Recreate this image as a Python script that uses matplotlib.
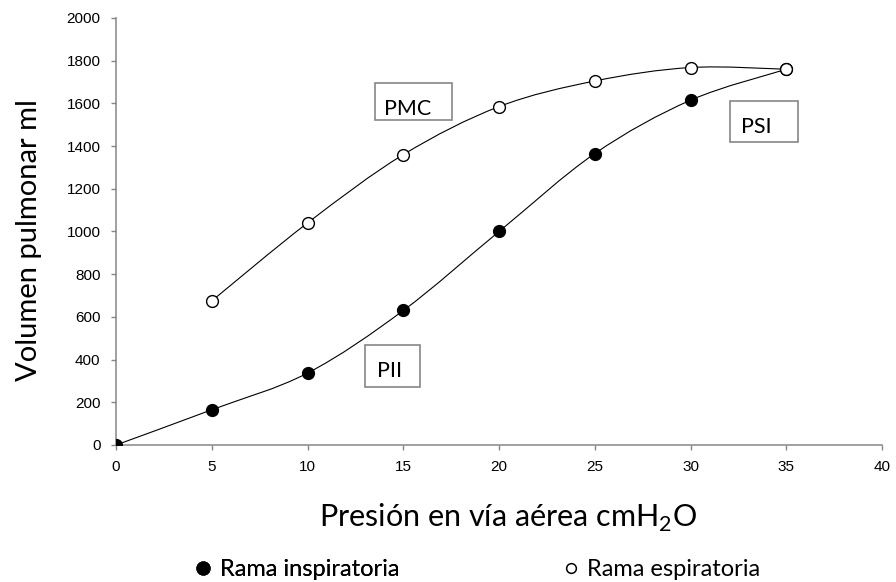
import numpy as np
import matplotlib.pyplot as plt
from matplotlib.path import Path
from matplotlib.patches import PathPatch, Rectangle
from matplotlib.lines import Line2D

plt.rcParams['mathtext.fontset'] = 'custom'
plt.rcParams['mathtext.rm'] = 'Lato'

# Presión (cmH2O) y volumen (ml) de cada rama
presion_insp = [0, 5, 10, 15, 20, 25, 30, 35]
volumen_insp = [0, 165, 337, 630, 1000, 1365, 1615, 1760]
presion_esp = [5, 10, 15, 20, 25, 30, 35]
volumen_esp = [675, 1040, 1360, 1585, 1705, 1768, 1760]

x_ticks = [0, 5, 10, 15, 20, 25, 30, 35, 40]
y_ticks = [0, 200, 400, 600, 800, 1000, 1200, 1400, 1600, 1800, 2000]

gris = '#868686'


def curva_suave(xs, ys):
    # Bezier cúbica tipo Catmull-Rom que pasa por todos los puntos
    p = np.column_stack([xs, ys]).astype(float)
    ext = np.vstack([p[0], p, p[-1]])
    verts = [p[0]]
    codes = [Path.MOVETO]
    for i in range(len(p) - 1):
        p0, p1, p2, p3 = ext[i], ext[i + 1], ext[i + 2], ext[i + 3]
        verts += [p1 + (p2 - p0) / 6, p2 - (p3 - p1) / 6, p2]
        codes += [Path.CURVE4] * 3
    return Path(verts, codes)


fig = plt.figure(figsize=(8.96, 5.82), dpi=100)
ax = fig.add_axes([0.1295, 0.2354, 0.855, 0.7337])

for xs, ys in [(presion_insp, volumen_insp), (presion_esp, volumen_esp)]:
    ax.add_patch(PathPatch(curva_suave(xs, ys), facecolor='none',
                           edgecolor='black', lw=0.8, zorder=2))

ax.plot(presion_insp, volumen_insp, 'o', ms=8.5, mfc='black', mec='black', zorder=3)
ax.plot(presion_esp, volumen_esp, 'o', ms=8.5, mfc='white', mec='black', mew=1.0, zorder=3)

ax.set_xlim(0, 40)
ax.set_ylim(0, 2000)
ax.set_xticks(x_ticks)
ax.set_yticks(y_ticks)
for s in ['top', 'right']:
    ax.spines[s].set_visible(False)
for s in ['left', 'bottom']:
    ax.spines[s].set_color(gris)
    ax.spines[s].set_linewidth(1.1)
    ax.spines[s].set_clip_on(False)
ax.tick_params(direction='out', length=3.6, width=1, color=gris,
               labelsize=11, pad=7.5)
for lbl in ax.get_xticklabels() + ax.get_yticklabels():
    lbl.set_family('Liberation Sans')

ax.set_ylabel('Volumen pulmonar ml', family='Lato', fontsize=21)
ax.yaxis.set_label_coords(-0.113, 0.48)
ax.yaxis.label.set_verticalalignment('center')
ax.set_xlabel(r'Presión en vía aérea cmH$_\mathregular{2}$O', family='Lato', fontsize=22)
ax.xaxis.set_label_coords(0.511, -0.192)
ax.xaxis.label.set_verticalalignment('baseline')

# Recuadros con las etiquetas de los puntos de inflexión
recuadros = [('PMC', 13.52, 1522, 17.55, 1696, 15.25, 1546),
             ('PSI', 32.06, 1419, 35.61, 1611, 33.42, 1461),
             ('PII', 13.0, 272, 15.87, 468, 14.26, 318)]
for txt, x0, y0, x1, y1, tx, ty in recuadros:
    ax.add_patch(Rectangle((x0, y0), x1 - x0, y1 - y0, facecolor='white',
                           edgecolor=gris, lw=1.2, zorder=4))
    ax.text(tx, ty, txt, family='Lato', fontsize=15.5, ha='center',
            va='baseline', zorder=5)

# Leyenda inferior
leg1 = fig.legend([Line2D([], [], ls='none', marker='o', ms=9.3, mfc='black', mec='black')],
                  ['Rama inspiratoria'], loc='center left',
                  bbox_to_anchor=(191 / 896, 0.0215), frameon=False,
                  prop={'family': 'Lato', 'size': 17}, handlelength=1.0,
                  handletextpad=0.23, borderpad=0, borderaxespad=0)
fig.add_artist(leg1)
fig.legend([Line2D([], [], ls='none', marker='o', ms=7, mfc='white', mec='black', mew=1.1)],
           ['Rama espiratoria'], loc='center left',
           bbox_to_anchor=(559 / 896, 0.0215), frameon=False,
           prop={'family': 'Lato', 'size': 17}, handlelength=1.0,
           handletextpad=0.19, borderpad=0, borderaxespad=0)

fig.savefig('out.png', dpi=100)
